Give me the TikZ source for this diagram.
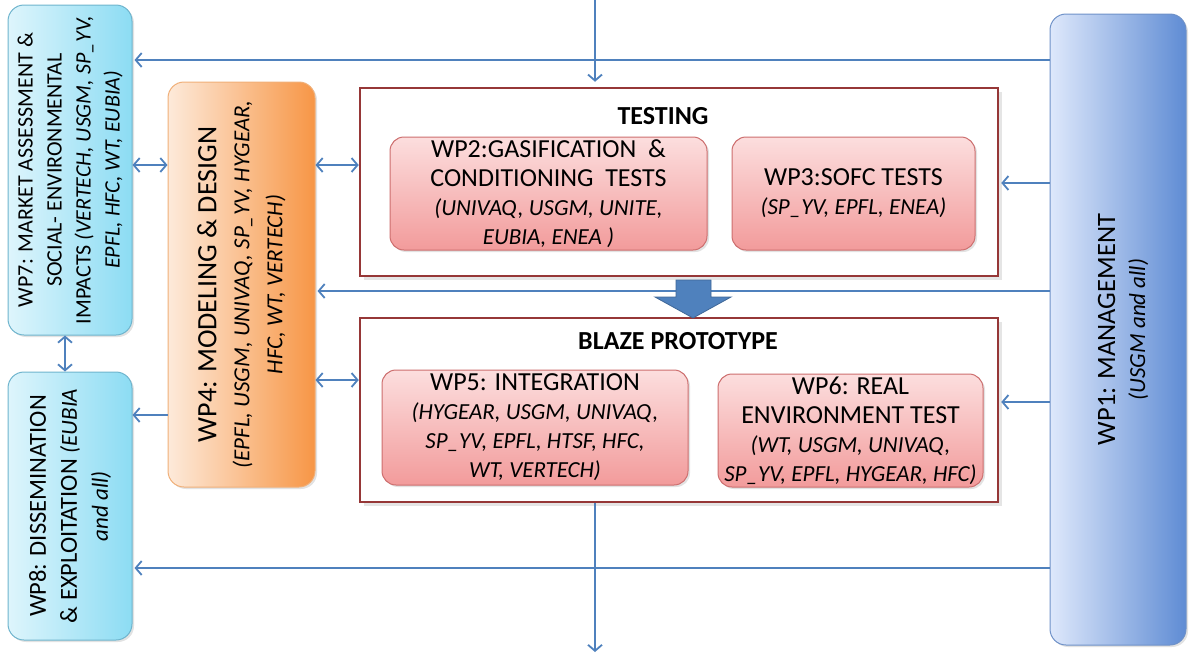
\documentclass[tikz,border=0pt]{standalone}
\usepackage{fontspec}
\setmainfont{Carlito}
\usetikzlibrary{arrows.meta,shadows}
\definecolor{arrowblue}{RGB}{79,129,189}
\definecolor{framered}{RGB}{150,55,55}
\definecolor{cyanlight}{RGB}{222,245,252}
\definecolor{cyandark}{RGB}{140,220,243}
\definecolor{cyanline}{RGB}{110,180,205}
\definecolor{orangelight}{RGB}{253,234,218}
\definecolor{orangedark}{RGB}{247,150,70}
\definecolor{orangeline}{RGB}{240,175,120}
\definecolor{bluelight}{RGB}{222,232,251}
\definecolor{bluedark}{RGB}{95,140,212}
\definecolor{blueline}{RGB}{110,145,200}
\definecolor{pinklight}{RGB}{252,222,222}
\definecolor{pinkdark}{RGB}{242,155,155}
\definecolor{pinkline}{RGB}{205,110,110}
\definecolor{flowblue}{RGB}{79,129,189}
% partner lists are set smaller and in italics
\newcommand{\who}[1]{{\fontsize{23}{29}\selectfont\itshape #1}}

\begin{document}
\begin{tikzpicture}
  [x=1pt,y=-1pt,
   every node/.style={inner sep=0pt,align=center},
   shade/.style={drop shadow={shadow xshift=2pt,shadow yshift=-2pt,fill=gray!45}},
   wpbox/.style={rounded corners=16pt,line width=1pt,shade},
   cyanbox/.style={wpbox,draw=cyanline,left color=cyanlight,right color=cyandark},
   orangebox/.style={wpbox,draw=orangeline,left color=orangelight,right color=orangedark},
   bluebox/.style={wpbox,draw=blueline,left color=bluelight,right color=bluedark},
   pinkbox/.style={wpbox,rounded corners=14pt,draw=pinkline,top color=pinklight,bottom color=pinkdark,
     font=\fontsize{26}{29}\selectfont},
   frame/.style={draw=framered,line width=2.5pt,fill=white,drop shadow={shadow xshift=4pt,shadow yshift=-4pt,fill=gray!40}},
   title/.style={font=\fontsize{26}{30}\selectfont\bfseries},
   arr/.style={draw=arrowblue,line width=1.8pt,-{Straight Barb[length=6pt,width=14pt]}},
   arr2/.style={arr,{Straight Barb[length=6pt,width=14pt]}-{Straight Barb[length=6pt,width=14pt]}}]

  \useasboundingbox (0,0) rectangle (1191,657);

  % outer work packages
  \node[cyanbox,minimum width=124pt,minimum height=330pt] (wp7) at (70,170) {};
  \node[cyanbox,minimum width=124pt,minimum height=268pt] (wp8) at (70,506) {};
  \node[orangebox,minimum width=147pt,minimum height=405pt] (wp4) at (241.5,284.5) {};
  \node[bluebox,minimum width=136pt,minimum height=631pt] (wp1) at (1118,329.5) {};

  \node[rotate=90,font=\fontsize{22}{29}\selectfont] (wp7txt) at (wp7)
    {WP7: MARKET ASSESSMENT \&\\SOCIAL- ENVIRONMENTAL\\IMPACTS \textit{(VERTECH, USGM, SP\_YV,}\\\textit{EPFL, HFC, WT, EUBIA)}};
  \node[rotate=90,font=\fontsize{24.5}{31}\selectfont] (wp8txt) at (wp8)
    {WP8: DISSEMINATION\\\& EXPLOITATION \who{(EUBIA}\\\who{and all)}};
  \node[rotate=90,font=\fontsize{28}{33}\selectfont] (wp4txt) at (wp4)
    {WP4: MODELING \& DESIGN\\\who{(EPFL, USGM, UNIVAQ, SP\_YV, HYGEAR,}\\\who{HFC, WT, VERTECH)}};
  \node[rotate=90,font=\fontsize{26.5}{30}\selectfont] (wp1txt) at (1123,329.5)
    {WP1: MANAGEMENT\\\who{(USGM and all)}};

  % testing and prototype frames
  \node[frame,minimum width=638pt,minimum height=188pt] (testing) at (679,182) {};
  \node[frame,minimum width=638pt,minimum height=184pt] (proto) at (679,410) {};
  \node[title] (testtitle) at (663,116) {TESTING};
  \node[title] (prototitle) at (678,341) {BLAZE PROTOTYPE};

  \node[pinkbox,minimum width=317pt,minimum height=113pt] (wp2) at (548.5,193.5)
    {WP2:GASIFICATION \ \&\\CONDITIONING \ TESTS\\\who{(UNIVAQ, USGM, UNITE,}\\\who{EUBIA, ENEA )}};
  \node[pinkbox,minimum width=243pt,minimum height=113pt] (wp3) at (853.5,193.5)
    {WP3:SOFC TESTS\\\who{(SP\_YV, EPFL, ENEA)}};
  \node[pinkbox,minimum width=306pt,minimum height=115pt] (wp5) at (535,427.5)
    {WP5: INTEGRATION\\\who{(HYGEAR, USGM, UNIVAQ,}\\\who{SP\_YV, EPFL, HTSF, HFC,}\\\who{WT, VERTECH)}};
  \node[pinkbox,minimum width=265pt,minimum height=113pt] (wp6) at (850.5,430.5)
    {WP6: REAL\\ENVIRONMENT TEST\\\who{(WT, USGM, UNIVAQ,}\\\who{SP\_YV, EPFL, HYGEAR, HFC)}};

  % connectors
  \coordinate (topin) at (595,0);
  \coordinate (botout) at (595,652);
  \draw[arr,shorten >=5pt] (topin) -- (topin |- testing.north);
  \draw[arr] (proto.south -| botout) -- (botout);
  \foreach \yy/\to in {60/wp7,183/testing,291/wp4,402/proto,568/wp8}
    \draw[arr,shorten >=2pt] (wp1.west |- 0,\yy) -- (\to.east |- 0,\yy);
  \foreach \from/\to/\yy in {wp7/wp4/165,wp4/testing/165,wp4/proto/380}
    \draw[arr2] (\from.east |- 0,\yy) -- (\to.west |- 0,\yy);
  \draw[arr] (wp4.west |- 0,415) -- (wp8.east |- 0,415);
  \draw[arr2] (wp7.south -| 65,0) -- (wp8.north -| 65,0);

  % flow arrow from testing to prototype
  \draw[draw=flowblue!80!black,fill=flowblue,line width=0.8pt]
    (676,280) -- (711,280) -- (711,297) -- (731,297) -- (693,318) -- (655,297) -- (676,297) -- cycle;
\end{tikzpicture}
\end{document}
